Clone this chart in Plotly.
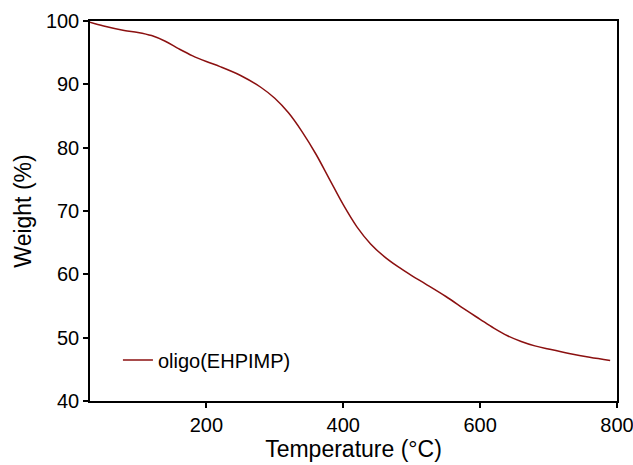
import plotly.graph_objects as go

# dados da curva TGA
temperatura = [30, 50, 80, 100, 120, 140, 160, 180, 200, 220, 250, 280, 300, 320,
               340, 360, 380, 400, 420, 440, 460, 480, 500, 520, 550, 580, 600,
               620, 640, 660, 680, 700, 730, 760, 790]
peso = [99.8, 99.2, 98.5, 98.2, 97.7, 96.8, 95.6, 94.5, 93.6, 92.8, 91.4, 89.5,
        87.8, 85.5, 82.5, 79.0, 75.0, 71.0, 67.5, 64.8, 62.8, 61.2, 59.8, 58.5,
        56.5, 54.3, 52.9, 51.5, 50.3, 49.4, 48.7, 48.2, 47.5, 46.9, 46.4]

x_ticks = [200, 400, 600, 800]
y_ticks = [40, 50, 60, 70, 80, 90, 100]

fig = go.Figure(
    data=go.Scatter(x=temperatura,
                    y=peso,
                    mode='lines',
                    line=dict(color='#8B1010', width=1.5, shape='spline'),
                    name='oligo(EHPIMP)')
)

eixo = dict(showline=True, linecolor='black', linewidth=1.5, mirror=True,
            ticks='outside', ticklen=5, tickcolor='black', tickwidth=1.5,
            showgrid=False, zeroline=False, automargin=False,
            ticklabeloverflow='allow',
            tickfont=dict(family='Liberation Sans, Arial', size=20, color='black'),
            title_font=dict(family='Liberation Sans, Arial', size=23, color='black'))

fig.update_layout(
    width=633, height=465,
    margin=dict(l=90, r=16, t=21, b=64),
    plot_bgcolor='white', paper_bgcolor='white',
    xaxis=dict(eixo, range=[30, 800.01], tickvals=x_ticks,
               title=dict(text='Temperature (°C)', standoff=5)),
    yaxis=dict(eixo, range=[40, 100], tickvals=y_ticks,
               title=dict(text='Weight (%)', standoff=8)),
    legend=dict(x=0.053, y=0.108, xanchor='left', yanchor='middle',
                bgcolor='rgba(0,0,0,0)',
                font=dict(family='Liberation Sans, Arial', size=20, color='black')),
    showlegend=True,
)

# tira a margem de 8px do body para a figura ocupar a janela toda
fig.write_html("out.html", config={'displayModeBar': False},
               post_script="document.body.style.margin='0px';")
